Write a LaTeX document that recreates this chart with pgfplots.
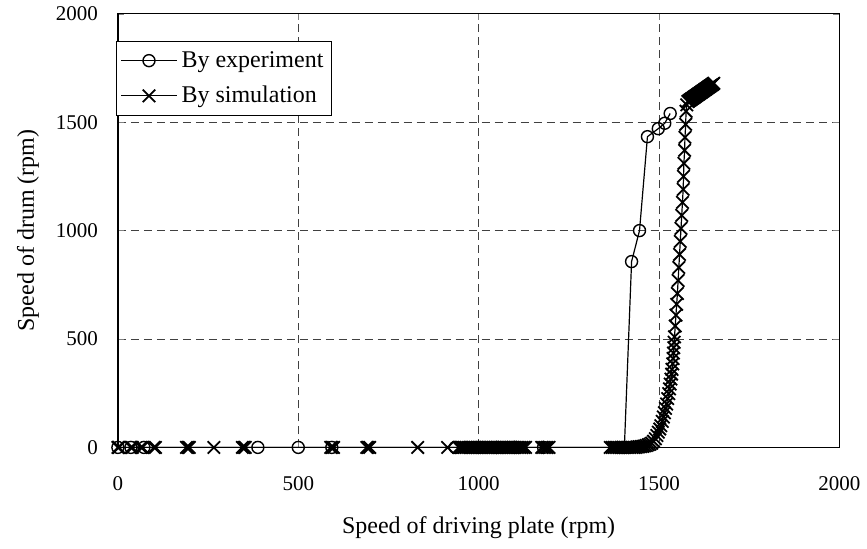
\documentclass[border=0pt]{standalone}
\usepackage{fontspec}
\setmainfont{Liberation Serif}
\usepackage{pgfplots}
\pgfplotsset{compat=1.18}
\begin{document}
\begin{tikzpicture}
\begin{axis}[
    scale only axis,
    width=361pt, height=217pt,
    xmin=0, xmax=2000, ymin=0, ymax=2000,
    xtick={0,500,1000,1500,2000},
    ytick={0,500,1000,1500,2000},
    /pgf/number format/assume math mode=true,
    /pgf/number format/set thousands separator={},
    tick label style={font=\fontsize{10.5}{12}\selectfont},
    xticklabel style={yshift=-11pt},
    yticklabel style={xshift=-6.5pt},
    tick align=inside,
    major tick length=3pt,
    grid=major,
    grid style={black!75, dash pattern=on 4pt off 2.5pt, line width=0.4pt},
    axis line style={line width=0.6pt},
    xlabel={Speed of driving plate (rpm)},
    ylabel={Speed of drum (rpm)},
    label style={font=\fontsize{12}{14}\selectfont},
    xlabel style={at={(axis description cs:0.5,-0.1843)}, anchor=center},
    ylabel style={at={(axis description cs:-0.1247,0.5)}, anchor=center},
    legend style={
        at={(0,1)}, anchor=north west, xshift=-1pt, yshift=-13.5pt,
        font=\fontsize{12}{14}\selectfont,
        draw=black, line width=0.5pt,
        inner xsep=2pt, inner ysep=3pt,
        row sep=4pt,
        cells={anchor=west}
    },
    legend image code/.code={
        \draw[mark repeat=2, mark phase=2, #1]
            plot coordinates {(0pt,0pt) (14pt,0pt) (28pt,0pt)};
    },
]

% By experiment
\addplot[black, line width=0.6pt, mark=o, mark size=3pt,
         mark options={solid, line width=0.7pt}] coordinates {
    (0,0) (36,0) (72,0) (388,0) (500,0) (593,0) (935,0)
    (1000,0) (1050,0) (1100,0) (1180,0) (1404,0)
    (1424,857) (1446,1000) (1468,1433) (1498,1470) (1516,1495) (1531,1540)
};
\addlegendentry{By experiment}

% By simulation
\addplot[black, line width=0.6pt, mark=x, mark size=4.4pt,
         mark options={solid, line width=0.9pt}] coordinates {
    (0,0) (3,0) (36,0) (40,0) (64,0) (68,0) (100,0) (104,0)
    (190,0) (194,0) (198,0) (266,0) (345,0) (349,0) (353,0)
    (590,0) (594,0) (598,0) (690,0) (694,0) (698,0) (831,0) (914,0)
    (945,0) (950,0) (955,0) (960,0) (965,0) (970,0) (975,0) (980,0)
    (985,0) (990,0) (995,0) (1000,0) (1005,0) (1010,0) (1015,0) (1020,0)
    (1025,0) (1030,0) (1035,0) (1040,0) (1045,0) (1050,0) (1055,0) (1060,0)
    (1065,0) (1070,0) (1075,0) (1080,0) (1085,0) (1090,0) (1095,0) (1100,0)
    (1105,0) (1110,0) (1115,0) (1120,0) (1125,0) (1130,0)
    (1175,0) (1180,0) (1185,0) (1190,0) (1195,0)
    (1365,0) (1370,0) (1375,0) (1380,0) (1385,0) (1390,0) (1395,0) (1400,0)
    (1405,0) (1410,0) (1415,0) (1420,0) (1425,0) (1430,0) (1435,0) (1440,2)
    (1445,3) (1450,4) (1455,5) (1460,7) (1465,9) (1470,12) (1475,15)
    (1480,20) (1485,28) (1490,40) (1494,55) (1498,70) (1502,85) (1505,100)
    (1509,120) (1512,140) (1515,160) (1518,180) (1521,200) (1524,225)
    (1527,248) (1529,270) (1531,292) (1533,315) (1535,338) (1536,360)
    (1538,385) (1539,410) (1540,435) (1541,460) (1542,485)
    (1543,510) (1545,560) (1547,610) (1549,660) (1551,710) (1553,770)
    (1555,830) (1557,890) (1559,950) (1561,1010) (1563,1070) (1565,1130)
    (1567,1190) (1568,1250) (1569,1310) (1571,1370) (1572,1430) (1574,1490)
    (1575,1550) (1577,1580)
    (1580,1595) (1582,1597) (1584,1600) (1586,1602) (1588,1604) (1590,1607)
    (1592,1609) (1594,1611) (1596,1614) (1598,1616) (1600,1618) (1602,1621)
    (1604,1623) (1606,1625) (1608,1628) (1610,1630) (1612,1632) (1614,1635)
    (1616,1637) (1618,1639) (1620,1642) (1622,1644) (1624,1646) (1626,1649)
    (1628,1651) (1630,1653) (1632,1656) (1634,1658) (1636,1660) (1638,1663)
    (1640,1665) (1642,1667) (1644,1670) (1646,1672) (1648,1674) (1650,1677)
    (1652,1679)
};
\addlegendentry{By simulation}

\end{axis}
% keep the reference's margins
\path (-59pt,-50.5pt) rectangle (374.5pt,223.5pt);
\end{tikzpicture}
\end{document}
